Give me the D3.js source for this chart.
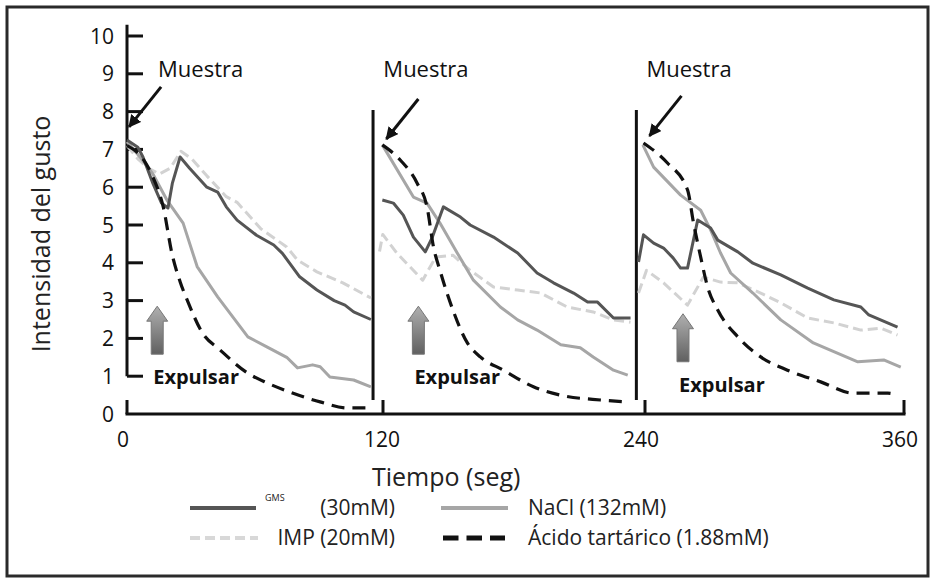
<!DOCTYPE html>
<html>
<head>
<meta charset="utf-8">
<script src="https://cdn.jsdelivr.net/npm/d3@7"></script>
<style>
  html, body { margin: 0; padding: 0; background: #fff; }
  svg { display: block; font-family: "Open Sans", "DejaVu Sans", sans-serif; }
</style>
</head>
<body>
<svg id="chart" width="935" height="583"></svg>
<script>
// ---------- DATA ----------
const yTicks = [0, 1, 2, 3, 4, 5, 6, 7, 8, 9, 10];
const xTicks = [0, 120, 240, 360];
const sessionBreaks = [114, 236];

// Each series: three sessions of [time (s), intensity]
const gmsData = [
  [[0,7.25],[5,7.06],[7.4,6.8],[12,6.1],[16,5.58],[19,5.45],[21,6.1],[24.6,6.8],[29,6.5],[37,6.0],[42,5.87],[46,5.48],[51,5.13],[60,4.73],[68,4.47],[72,4.25],[80,3.63],[88,3.28],[96,3.0],[101,2.88],[105,2.7],[113,2.5]],
  [[118.3,5.66],[123.4,5.58],[128,5.26],[132.7,4.68],[138.2,4.29],[141.5,4.68],[146.6,5.48],[154.5,5.21],[159,5.0],[169.8,4.68],[181,4.26],[190,3.73],[197.6,3.47],[206.9,3.2],[213.4,2.96],[218,2.96],[225.4,2.54],[233.3,2.54]],
  [[237,4.02],[239.3,4.74],[244,4.52],[248.6,4.39],[253,4.13],[256.5,3.86],[259.7,3.86],[264.4,5.13],[270.4,4.92],[273.7,4.6],[283,4.29],[290,3.99],[302.9,3.68],[315.4,3.33],[327.5,3.02],[340,2.83],[343.7,2.62],[357,2.3]]
];
const impData = [
  [[0,7.1],[5,6.75],[10,6.5],[15,6.35],[20,6.5],[25,6.95],[30,6.75],[37,6.3],[46,5.75],[51,5.6],[62,4.9],[74,4.42],[79,4.07],[88,3.76],[100,3.47],[113,3.07]],
  [[117,4.3],[118.5,4.75],[125,4.26],[137,3.54],[143,4.15],[151,4.2],[159,3.8],[169.8,3.36],[181,3.28],[191.7,3.2],[204,2.83],[216,2.7],[225.4,2.49],[233.3,2.43]],
  [[237,3.2],[240.7,3.8],[248.6,3.47],[259.7,2.88],[267,3.62],[275,3.49],[283,3.47],[293.6,3.2],[302.9,2.94],[315.4,2.54],[327.5,2.41],[340,2.22],[349.3,2.27],[357,2.09]]
];
const naclData = [
  [[0,7.2],[6,6.8],[12,6.35],[18.5,5.66],[26,5.05],[32.5,3.9],[42,3.1],[56,2.04],[65,1.77],[74,1.5],[79,1.22],[86,1.3],[89.5,1.25],[94,0.98],[105,0.9],[113,0.72]],
  [[118.3,7.12],[132.7,5.74],[139,5.58],[145,5.05],[153,4.26],[160.5,3.54],[173,2.83],[181,2.49],[190,2.22],[201,1.83],[210,1.75],[216,1.51],[225.4,1.16],[232,1.03]],
  [[239,7.12],[244,6.53],[256.5,5.79],[265.8,5.39],[270.4,4.87],[275,4.26],[279.7,3.73],[290,3.2],[302.9,2.49],[318,1.88],[338.6,1.38],[350.6,1.43],[358.5,1.24]]
];
const tartData = [
  [[0,7.1],[7.4,6.75],[12,6.27],[16.7,5.5],[21,4.2],[24.6,3.5],[28,3.0],[35,2.14],[43,1.7],[56,1.08],[65,0.82],[77,0.55],[89.5,0.32],[102,0.16],[113,0.16]],
  [[118.3,7.12],[126.6,6.72],[134.5,6.1],[139,5.48],[142,4.42],[145,3.8],[151,2.75],[157.7,1.88],[163.7,1.51],[174.4,1.16],[188.3,0.72],[200.8,0.5],[219.4,0.37],[232,0.32]],
  [[239.3,7.17],[250.4,6.64],[259.7,5.93],[262.5,5.05],[265.8,4.15],[269,3.36],[273.7,2.75],[283,2.04],[293.6,1.51],[306,1.16],[321.4,0.85],[336.7,0.55],[352.5,0.55],[357,0.5]]
];

// Annotation anchor points (time, intensity)
const sampleTips = [[0.5,7.57],[119.7,7.25],[241.6,7.33]];
const expelPos = [[14,1],[135,1],[257.6,0.8]];

const legendLabels = ["(30mM)", "IMP (20mM)", "NaCl (132mM)", "Ácido tartárico (1.88mM)"];

// ---------- CHART ----------
const svg = d3.select("#chart");
const x = d3.scaleLinear().domain([0, 360]).range([127, 904]);
const y = d3.scaleLinear().domain([0, 10]).range([414, 36]);

// frame
svg.append("rect").attr("x", 7).attr("y", 7).attr("width", 921).attr("height", 569)
  .attr("fill", "none").attr("stroke", "#2a2a2a").attr("stroke-width", 3);

// defs: gradient + arrowhead
const defs = svg.append("defs");
const grad = defs.append("linearGradient").attr("id", "gArrow").attr("x1", 0).attr("y1", 0).attr("x2", 0).attr("y2", 1);
grad.append("stop").attr("offset", "0%").attr("stop-color", "#b0b0b0");
grad.append("stop").attr("offset", "100%").attr("stop-color", "#606060");
defs.append("marker").attr("id", "ah").attr("viewBox", "0 0 10 10").attr("refX", 9).attr("refY", 5)
  .attr("markerWidth", 4.2).attr("markerHeight", 4.2).attr("orient", "auto")
  .append("path").attr("d", "M0,0 L10,5 L0,10 z").attr("fill", "#111");

// Y axis (value 1 .. 10 part)
const yAxis = svg.append("g");
yAxis.append("line").attr("x1", x(0)).attr("x2", x(0)).attr("y1", y(10.3)).attr("y2", y(1))
  .attr("stroke", "#111").attr("stroke-width", 3);
yAxis.selectAll("line.tk").data(yTicks.filter(d => d >= 1)).join("line").attr("class", "tk")
  .attr("x1", x(0)).attr("x2", x(0) + 16).attr("y1", d => y(d)).attr("y2", d => y(d))
  .attr("stroke", "#111").attr("stroke-width", 3);
yAxis.selectAll("text").data(yTicks).join("text")
  .attr("x", 114).attr("y", d => y(d)).attr("dy", "0.36em").attr("text-anchor", "end")
  .attr("font-size", 21).attr("fill", "#111").text(d => d);

// X axis
const xAxis = svg.append("g");
xAxis.append("line").attr("x1", x(0) - 1.5).attr("x2", x(360) + 1.5).attr("y1", y(0)).attr("y2", y(0))
  .attr("stroke", "#111").attr("stroke-width", 3);
xAxis.selectAll("line.tk").data(xTicks).join("line").attr("class", "tk")
  .attr("x1", d => x(d) - (d === 120 ? 3 : 0)).attr("x2", d => x(d) - (d === 120 ? 3 : 0))
  .attr("y1", y(0)).attr("y2", y(0) - 14)
  .attr("stroke", "#111").attr("stroke-width", 3);
xAxis.selectAll("text").data(xTicks).join("text")
  .attr("x", d => x(d) - 4).attr("y", 447).attr("text-anchor", "middle")
  .attr("font-size", 21).attr("fill", "#111").text(d => d);

// session separators
svg.selectAll("line.sep").data(sessionBreaks).join("line").attr("class", "sep")
  .attr("x1", d => x(d)).attr("x2", d => x(d)).attr("y1", 110).attr("y2", 400)
  .attr("stroke", "#111").attr("stroke-width", 3);

// axis titles
svg.append("text").attr("transform", `translate(50,${234}) rotate(-90)`).attr("text-anchor", "middle")
  .attr("font-size", 25).attr("fill", "#222").text("Intensidad del gusto");
svg.append("text").attr("x", 372).attr("y", 486).attr("font-size", 25).attr("fill", "#222").text("Tiempo (seg)");

// series
const lineLin = d3.line().x(d => x(d[0])).y(d => y(d[1]));
const lineSmooth = d3.line().x(d => x(d[0])).y(d => y(d[1])).curve(d3.curveMonotoneX);

const series = [
  { data: impData, color: "#d2d2d2", width: 3, dash: "10,5", gen: lineLin },
  { data: naclData, color: "#a6a6a6", width: 3, dash: null, gen: lineLin },
  { data: gmsData, color: "#555555", width: 3, dash: null, gen: lineLin },
  { data: tartData, color: "#111111", width: 3.2, dash: "13,8", gen: lineSmooth }
];
series.forEach(s => {
  svg.append("g").selectAll("path").data(s.data).join("path")
    .attr("d", d => s.gen(d)).attr("fill", "none")
    .attr("stroke", s.color).attr("stroke-width", s.width)
    .attr("stroke-dasharray", s.dash).attr("stroke-linejoin", "round");
});

// "Muestra" arrows and labels
const muestraG = svg.append("g");
sampleTips.forEach((p, i) => {
  const tx = x(p[0]), ty = y(p[1]);
  muestraG.append("line").attr("x1", tx + 33).attr("y1", ty - 41).attr("x2", tx + 1).attr("y2", ty - 1)
    .attr("stroke", "#111").attr("stroke-width", 3).attr("marker-end", "url(#ah)");
  muestraG.append("text").attr("x", tx + (i === 0 ? 30 : -2)).attr("y", 77)
    .attr("font-size", 22).attr("fill", "#111").text("Muestra");
});

// "Expulsar" block arrows and labels
const expG = svg.append("g");
expelPos.forEach(p => {
  const cx = x(p[0]), base = y(p[1]);
  const top = base - 70, bot = base - 22;
  const hw = 10.5, sw = 6, hh = 15;
  expG.append("path")
    .attr("d", `M${cx},${top} L${cx + hw},${top + hh} L${cx + sw},${top + hh} L${cx + sw},${bot} L${cx - sw},${bot} L${cx - sw},${top + hh} L${cx - hw},${top + hh} Z`)
    .attr("fill", "url(#gArrow)").attr("stroke", "#777").attr("stroke-width", 1);
  expG.append("text").attr("x", cx - 4).attr("y", base + 8).attr("font-size", 20).attr("font-weight", "bold")
    .attr("fill", "#111").text("Expulsar");
});

// legend
const lg = svg.append("g");
const rows = [508, 538];
const fs = 21;
lg.append("line").attr("x1", 190).attr("x2", 256).attr("y1", rows[0]).attr("y2", rows[0]).attr("stroke", "#555").attr("stroke-width", 4);
lg.append("text").attr("x", 265).attr("y", rows[0] - 7).attr("font-size", 9).attr("fill", "#222").text("GMS");
lg.append("text").attr("x", 395).attr("y", rows[0]).attr("dy", "0.35em").attr("text-anchor", "end").attr("font-size", fs).attr("fill", "#222").text(legendLabels[0]);
lg.append("line").attr("x1", 190).attr("x2", 258).attr("y1", rows[1]).attr("y2", rows[1]).attr("stroke", "#d8d8d8").attr("stroke-width", 4).attr("stroke-dasharray", "10,5");
lg.append("text").attr("x", 395).attr("y", rows[1]).attr("dy", "0.35em").attr("text-anchor", "end").attr("font-size", fs).attr("fill", "#222").text(legendLabels[1]);
lg.append("line").attr("x1", 441).attr("x2", 508).attr("y1", rows[0]).attr("y2", rows[0]).attr("stroke", "#a6a6a6").attr("stroke-width", 4);
lg.append("text").attr("x", 528).attr("y", rows[0]).attr("dy", "0.35em").attr("font-size", fs).attr("fill", "#222").text(legendLabels[2]);
lg.append("line").attr("x1", 443).attr("x2", 505).attr("y1", rows[1]).attr("y2", rows[1]).attr("stroke", "#111").attr("stroke-width", 5).attr("stroke-dasharray", "15.5,8");
lg.append("text").attr("x", 528).attr("y", rows[1]).attr("dy", "0.35em").attr("font-size", fs).attr("fill", "#222").text(legendLabels[3]);
</script>
</body>
</html>
